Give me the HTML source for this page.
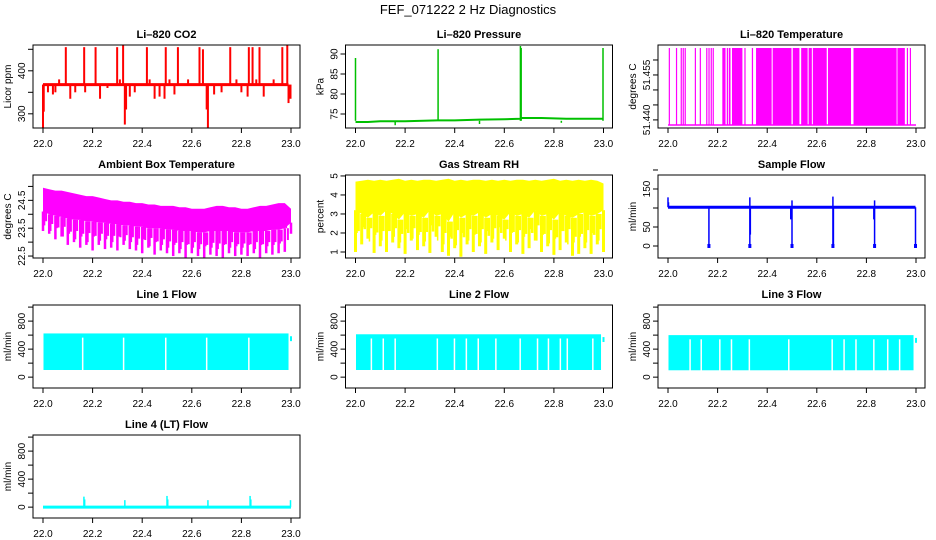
<!DOCTYPE html>
<html><head><meta charset="utf-8">
<style>
html,body{margin:0;padding:0;background:#fff;}
svg{display:block;font-family:"Liberation Sans",Arial,sans-serif;}
</style></head>
<body>
<svg id="chart" width="936" height="540" viewBox="0 0 936 540" xmlns="http://www.w3.org/2000/svg">
<rect width="936" height="540" fill="#fff"/>
<text x="468" y="14" text-anchor="middle" font-size="13">FEF_071222  2 Hz Diagnostics</text>
</svg>
<script>
// ---- data ----
const xTicks = [22.0, 22.2, 22.4, 22.6, 22.8, 23.0];
const xTickLabels = ["22.0", "22.2", "22.4", "22.6", "22.8", "23.0"];

const co2Base = 368;
const co2SpikeT = [22.0,22.003,22.02,22.04,22.05,22.065,22.092,22.11,22.13,22.166,22.17,22.212,22.23,22.26,22.299,22.31,22.323,22.33,22.335,22.35,22.37,22.419,22.43,22.45,22.47,22.49,22.495,22.51,22.53,22.544,22.585,22.631,22.645,22.66,22.665,22.69,22.72,22.755,22.78,22.80,22.825,22.83,22.845,22.86,22.873,22.89,22.93,22.965,22.985,22.99,22.998];
const co2SpikeV = [268,305,350,345,350,380,455,335,350,455,350,455,335,360,455,380,460,275,310,340,350,455,380,335,340,335,455,380,345,455,380,455,450,310,268,345,350,455,380,350,340,455,455,380,455,340,380,455,460,325,335];

const pressT = [22.0,22.05,22.1,22.2,22.33,22.4,22.5,22.6,22.665,22.67,22.75,22.85,22.95,22.998];
const pressV = [73.0,73.0,73.2,73.2,73.4,73.4,73.6,73.7,73.8,74.0,74.0,73.8,73.8,73.8];
const pressSpikeT = [22.0,22.333,22.665,22.668,22.998,22.16,22.5,22.83];
const pressSpikeV = [89,91.2,92,91.5,91.5,72.2,72.5,72.8];

const tempLow = 51.4383, tempHigh = 51.4640;
const tempOnStart = [0.003,0.032,0.051,0.059,0.067,0.108,0.128,0.154,0.163,0.172,0.180,0.219,0.237,0.245,0.258,0.308,0.338,0.355,0.422,0.503,0.537,0.567,0.584,0.645,0.748,0.925,0.963,0.975];
const tempOnEnd   = [0.005,0.034,0.053,0.061,0.069,0.110,0.130,0.156,0.165,0.174,0.182,0.232,0.240,0.252,0.300,0.312,0.343,0.418,0.498,0.530,0.563,0.580,0.640,0.738,0.922,0.955,0.965,0.977];

const ambHi = [24.95,24.9,24.85,24.85,24.8,24.75,24.7,24.65,24.65,24.6,24.55,24.5,24.5,24.45,24.45,24.4,24.4,24.35,24.35,24.3,24.3,24.3,24.25,24.25,24.2,24.2,24.2,24.25,24.3,24.3,24.25,24.25,24.2,24.2,24.25,24.3,24.3,24.35,24.4,24.4,24.2];
const ambCore = [24.1,24.0,23.95,23.9,23.85,23.8,23.8,23.75,23.75,23.7,23.7,23.65,23.65,23.6,23.6,23.55,23.55,23.5,23.5,23.5,23.45,23.45,23.4,23.4,23.4,23.35,23.35,23.4,23.4,23.4,23.4,23.35,23.35,23.35,23.4,23.4,23.4,23.45,23.45,23.5,23.7];
const ambLo = [23.4,23.3,23.1,23.2,22.9,23.0,22.8,22.9,22.7,22.9,22.75,22.8,22.7,22.9,22.75,22.7,22.6,22.8,22.55,22.7,22.6,22.5,22.6,22.45,22.6,22.5,22.45,22.55,22.5,22.45,22.6,22.5,22.55,22.5,22.6,22.45,22.6,22.55,22.6,22.65,23.3];

const rhHi = [4.7,4.75,4.8,4.75,4.8,4.75,4.8,4.85,4.75,4.8,4.75,4.8,4.8,4.75,4.8,4.85,4.75,4.8,4.75,4.8,4.8,4.75,4.8,4.75,4.8,4.75,4.8,4.8,4.75,4.8,4.75,4.8,4.85,4.75,4.8,4.75,4.8,4.75,4.8,4.75,4.6];
const rhCore = [3.2,3.0,2.8,3.1,2.9,3.2,3.0,2.7,3.1,2.9,3.0,2.8,3.2,2.9,3.0,2.6,3.1,2.8,3.0,2.9,3.1,2.8,3.0,2.9,2.7,3.1,2.9,3.0,2.8,3.2,2.9,3.0,2.7,3.1,2.9,2.8,3.0,3.1,2.9,3.0,3.2];
const rhLo = [1.0,1.4,1.7,0.95,1.3,1.0,1.5,1.2,0.9,1.6,1.1,1.3,0.95,1.8,1.0,0.8,1.2,0.75,1.4,1.0,1.3,0.9,1.5,1.1,1.7,1.0,1.4,0.9,1.2,1.6,1.0,1.3,0.85,1.1,1.5,0.8,0.9,1.2,0.9,1.4,1.0];

const flowBase = 102;
const flowDipT = [22.165,22.33,22.332,22.5,22.665,22.667,22.833,22.998,22.495,22.83];
const flowDipV = [0,0,30,0,0,5,0,0,70,70];
const flowSpikeT = [22.0,22.33,22.5,22.665,22.833,22.002];
const flowSpikeV = [128,128,120,130,120,115];

const line1Hi = 624, line1Lo = 102;
const line1Gaps = [0.16,0.325,0.495,0.66,0.83];
const line2Hi = 612, line2Lo = 102;
const line2Gaps = [0.064,0.112,0.16,0.33,0.399,0.447,0.495,0.566,0.664,0.734,0.778,0.826,0.854,0.957];
const line3Hi = 600, line3Lo = 98;
const line3Gaps = [0.089,0.134,0.209,0.256,0.328,0.487,0.662,0.710,0.758,0.830,0.886,0.934];

const line4Base = 0;
const line4SpikeT = [22.165,22.168,22.33,22.5,22.503,22.665,22.835,22.838,22.998];
const line4SpikeV = [150,110,100,160,110,100,160,110,100];

// ---- drawing ----
const NS = "http://www.w3.org/2000/svg";
const svg = document.getElementById("chart");
function mk(tag, attrs, parent){
  const e = document.createElementNS(NS, tag);
  for (const k in attrs) e.setAttribute(k, attrs[k]);
  (parent||svg).appendChild(e);
  return e;
}
function panel(col,row,title,ylab,ymin,ymax,ticks,labels,key){
  const L = 33 + 312.5*col, T = 45 + 130*row, W = 267, H = 83;
  const g = mk("g",{});
  
  
  const P = {g, L, T, W, H,
    x: t => L + 10 + (t-22)*248,
    y: v => T + H - (v-ymin)/(ymax-ymin)*H};
  const tt = mk("text",{x:L+W/2,y:T-7,"text-anchor":"middle","font-size":"11","font-weight":"bold"},g);
  tt.textContent = title;
  
  
  const yl = mk("text",{transform:`translate(${L-22},${T+H/2}) rotate(-90)`,"text-anchor":"middle","font-size":"10"},g);
  yl.textContent = ylab;
  
  
  P.plot = mk("g",{},g);
  
  
  const box = mk("rect",{x:L,y:T,width:W,height:H,fill:"none",stroke:"#000","stroke-width":1},g);
  
  
  const xa = mk("g",{},g);
  
  
  mk("line",{x1:P.x(22),x2:P.x(23),y1:T+H,y2:T+H,stroke:"#000"},xa);
  xTicks.forEach((t,i)=>{
    mk("line",{x1:P.x(t),x2:P.x(t),y1:T+H,y2:T+H+5,stroke:"#000"},xa);
    const lb = mk("text",{x:P.x(t),y:T+H+19,"text-anchor":"middle","font-size":"10"},xa);
    lb.textContent = xTickLabels[i];
  });
  const ya = mk("g",{},g);
  
  
  ticks.forEach((v,i)=>{
    mk("line",{x1:L-5,x2:L,y1:P.y(v),y2:P.y(v),stroke:"#000"},ya);
    if (labels[i]) {
      const lb = mk("text",{transform:`translate(${L-8},${P.y(v)}) rotate(-90)`,"text-anchor":"middle","font-size":"10"},ya);
      lb.textContent = labels[i];
    }
  });
  return P;
}
function vl(P,t,v1,v2,c,w){
  mk("line",{x1:P.x(t),x2:P.x(t),y1:P.y(v1),y2:P.y(v2),stroke:c,"stroke-width":w},P.plot);
}
function binT(i,n){ return 22 + i/(n-1); }

// CO2
let P = panel(0,0,"Li\u2013820 CO2","Licor ppm",267,460,[300,350,400,450],["300","","400",""],"co2");
co2SpikeT.forEach((t,i)=>vl(P,t,co2Base,co2SpikeV[i],"#ff0000",2));
mk("line",{x1:P.x(22),x2:P.x(22.99),y1:P.y(co2Base),y2:P.y(co2Base),stroke:"#ff0000","stroke-width":3},P.plot);

// Pressure
P = panel(1,0,"Li\u2013820 Pressure","kPa",71.5,92.25,[75,80,85,90],["75","80","85","90"],"pressure");
mk("polyline",{points:pressT.map((t,i)=>P.x(t)+","+P.y(pressV[i])).join(" "),fill:"none",stroke:"#00c000","stroke-width":2},P.plot);
pressSpikeT.forEach((t,i)=>vl(P,t,73.3,pressSpikeV[i],"#00c000",1.5));

// Temperature
P = panel(2,0,"Li\u2013820 Temperature","degrees C",51.4373,51.465,[51.440,51.445,51.450,51.455,51.460],["51.440","","","51.455",""],"li820-temperature");
mk("line",{x1:P.x(22),x2:P.x(23),y1:P.y(tempLow),y2:P.y(tempLow),stroke:"#ff00ff","stroke-width":1.5},P.plot);
tempOnStart.forEach((s,i)=>{
  const x1 = P.x(22+s), x2 = Math.max(P.x(22+tempOnEnd[i]), x1+1.2);
  mk("rect",{x:x1,y:P.y(tempHigh),width:x2-x1,height:P.y(tempLow)-P.y(tempHigh),fill:"#ff00ff"},P.plot);
});

// Ambient box temperature
P = panel(0,1,"Ambient Box Temperature","degrees C",22.43,25.41,[22.5,23.0,23.5,24.0,24.5,25.0],["22.5","","23.5","","24.5",""],"ambient");
{
  const n = ambHi.length;
  let pts = ambHi.map((v,i)=>P.x(binT(i,n))+","+P.y(v));
  pts = pts.concat(ambCore.map((v,i)=>P.x(binT(i,n))+","+P.y(v)).reverse());
  mk("polygon",{points:pts.join(" "),fill:"#ff00ff"},P.plot);
  ambLo.forEach((v,i)=>{ vl(P,binT(i,n),ambCore[i],v,"#ff00ff",2.5); });
  ambLo.forEach((v,i)=>{ if(i<n-1) vl(P,(binT(i,n)+binT(i+1,n))/2,ambCore[i],(v+ambCore[i])/2,"#ff00ff",2); });
  ambLo.forEach((v,i)=>{ if(i<n-1) vl(P,(3*binT(i,n)+binT(i+1,n))/4,ambCore[i],ambLo[i+1]+0.3,"#ff00ff",1.5); });
}

// Gas stream RH
P = panel(1,1,"Gas Stream RH","percent",0.684,5.05,[1,2,3,4,5],["1","2","3","4","5"],"rh");
{
  const n = rhHi.length;
  let pts = rhHi.map((v,i)=>P.x(binT(i,n))+","+P.y(v));
  pts = pts.concat(rhCore.map((v,i)=>P.x(binT(i,n))+","+P.y(v)).reverse());
  mk("polygon",{points:pts.join(" "),fill:"#ffff00"},P.plot);
  rhLo.forEach((v,i)=>{ vl(P,binT(i,n),rhCore[i],v,"#ffff00",3); });
  rhLo.forEach((v,i)=>{ if(i<n-1) vl(P,(binT(i,n)+binT(i+1,n))/2,rhCore[i],(v+rhCore[i])/2,"#ffff00",2.5); });
  rhLo.forEach((v,i)=>{ if(i<n-1) vl(P,(3*binT(i,n)+binT(i+1,n))/4,rhCore[i],rhLo[i+1]+0.6,"#ffff00",1.5); });
}

// Sample flow
P = panel(2,1,"Sample Flow","ml/min",-31.6,186.8,[0,50,100,150,200],["0","50","","150",""],"sample-flow");
mk("line",{x1:P.x(22),x2:P.x(22.998),y1:P.y(flowBase),y2:P.y(flowBase),stroke:"#0000ff","stroke-width":3},P.plot);
flowDipT.forEach((t,i)=>vl(P,t,flowBase,flowDipV[i],"#0000ff",1.5));
flowSpikeT.forEach((t,i)=>vl(P,t,flowBase,flowSpikeV[i],"#0000ff",1.5));
flowDipT.forEach((t,i)=>{ if(flowDipV[i]===0) mk("rect",{x:P.x(t)-1.5,y:P.y(0)-2,width:3,height:4,fill:"#0000ff"},P.plot); });

// Line flows
function bandPanel(col,row,title,key,hi,lo,gaps){
  const Q = panel(col,row,title,"ml/min",-155,1030,[0,200,400,600,800,1000],["0","","400","","800",""],key);
  mk("rect",{x:Q.x(22.002),y:Q.y(hi),width:Q.x(22.99)-Q.x(22.002),height:Q.y(lo)-Q.y(hi),fill:"#00ffff"},Q.plot);
  gaps.forEach(gp=>vl(Q,22+gp,lo-5,hi-60,"#ffffff",1.5));
  vl(Q,23.0,hi-110,hi-40,"#00ffff",2);
  return Q;
}
bandPanel(0,2,"Line 1 Flow","line1-flow",line1Hi,line1Lo,line1Gaps);
bandPanel(1,2,"Line 2 Flow","line2-flow",line2Hi,line2Lo,line2Gaps);
bandPanel(2,2,"Line 3 Flow","line3-flow",line3Hi,line3Lo,line3Gaps);

// Line 4
P = panel(0,3,"Line 4 (LT) Flow","ml/min",-155,1030,[0,200,400,600,800,1000],["0","","400","","800",""],"line4-flow");
mk("line",{x1:P.x(22),x2:P.x(23),y1:P.y(line4Base),y2:P.y(line4Base),stroke:"#00ffff","stroke-width":3},P.plot);
line4SpikeT.forEach((t,i)=>vl(P,t,line4Base,line4SpikeV[i],"#00ffff",1.5));
</script>
</body></html>
